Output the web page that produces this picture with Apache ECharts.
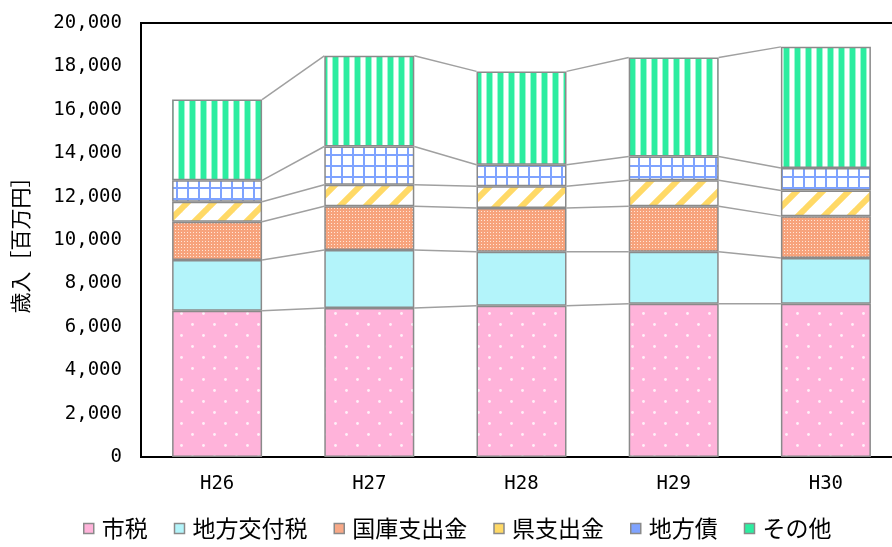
<!DOCTYPE html>
<html><head><meta charset="utf-8">
<script src="https://cdn.jsdelivr.net/npm/echarts@6/dist/echarts.min.js"></script>
<style>html,body{margin:0;padding:0;background:#fff}#c{width:892px;height:547px}</style>
</head><body><div id="c"></div>
<script>
const categories = ['H26','H27','H28','H29','H30'];
const shizei   = [6740, 6870, 6970, 7060, 7060];
const kofuzei  = [2340, 2670, 2490, 2400, 2110];
const kokko    = [1760, 2020, 2020, 2100, 1930];
const ken      = [ 920,  990, 1000, 1190, 1180];
const chihosai = [ 990, 1760,  990, 1100, 1040];
const sonota   = [3720, 4180, 4300, 4560, 5580];
const seriesNames = ['市税','地方交付税','国庫支出金','県支出金','地方債','その他'];
const yTicks = {min:0, max:20000, interval:2000};

function tile(w,h,draw){const c=document.createElement('canvas');c.width=w;c.height=h;const g=c.getContext('2d');draw(g,w,h);return c;}
const patDots = tile(22,22,(g,w,h)=>{g.fillStyle='#FFB3DA';g.fillRect(0,0,w,h);g.fillStyle='#FFF0F8';
  g.beginPath();g.arc(5.5,5.5,1.4,0,Math.PI*2);g.fill();g.beginPath();g.arc(16.5,16.5,1.4,0,Math.PI*2);g.fill();});
const patKokko = tile(3,3,(g,w,h)=>{g.fillStyle='#F7A37C';g.fillRect(0,0,w,h);g.fillStyle='#FFE6D8';g.fillRect(1,1,1,1);});
const patKen = tile(26,26,(g,w,h)=>{g.fillStyle='#fff';g.fillRect(0,0,w,h);g.strokeStyle='#FFD966';g.lineWidth=6;
  for(let k=-1;k<=1;k++){g.beginPath();g.moveTo(k*w-2,h+2);g.lineTo(k*w+w+2,-2);g.stroke();}});
const patSai = tile(11,11,(g,w,h)=>{g.fillStyle='#fff';g.fillRect(0,0,w,h);g.fillStyle='#7FA3FF';g.fillRect(0,0,2,h);g.fillRect(0,0,w,2);});
const patSonota = tile(11,4,(g,w,h)=>{g.fillStyle='#fff';g.fillRect(0,0,w,h);g.fillStyle='#2CEDA0';g.fillRect(3,0,5,h);g.fillStyle='#9FF7D2';g.fillRect(2,0,1,h);g.fillRect(8,0,1,h);});

const fills = [
  {image:patDots, repeat:'repeat'}, '#B3F4FA', {image:patKokko, repeat:'repeat'},
  {image:patKen, repeat:'repeat'}, {image:patSai, repeat:'repeat'}, {image:patSonota, repeat:'repeat'}
];
const legendIconColors = ['#FFB3DA','#B3F4FA','#F8A987','#FFD966','#7FA3FF','#2CEDA0'];
const values = [shizei,kofuzei,kokko,ken,chihosai,sonota];
const FONT = '"Noto Sans CJK JP", sans-serif';
const MONO = '"DejaVu Sans Mono", monospace';

const cum = [];
values.forEach((arr,k)=>{cum.push(arr.map((v,i)=> v + (k>0?cum[k-1][i]:0)));});
const lineData = [];
cum.forEach(level=>{for(let i=0;i<categories.length-1;i++) lineData.push([i, level[i], level[i+1]]);});

const barSeries = values.map((arr,k)=>({
  name: seriesNames[k], type:'bar', stack:'a', barWidth:90, data:arr,
  itemStyle:{color:fills[k], borderColor:'#8A8A8A', borderWidth:1.5},
  emphasis:{disabled:true}, z:3
}));

const chart = echarts.init(document.getElementById('c'));
chart.setOption({
  animation:false,
  textStyle:{fontFamily:FONT},
  grid:{left:141, right:-10, top:23, bottom:90, show:true, borderColor:'#000', borderWidth:2,
    outerBoundsMode:'none', containLabel:false},
  legend:{data:seriesNames.map((n,k)=>({name:n, itemStyle:{color:legendIconColors[k]}})),
    left:83, top:517, padding:0, itemWidth:10, itemHeight:10, itemGap:26,
    icon:'rect', itemStyle:{borderColor:'#8A8A8A', borderWidth:1.5},
    textStyle:{fontFamily:FONT, fontSize:23, color:'#000', padding:[0,0,0,3]}},
  xAxis:{type:'category', data:categories, axisTick:{show:false},
    axisLine:{lineStyle:{color:'#000', width:2}},
    axisLabel:{fontFamily:MONO, fontSize:19, color:'#000', margin:18}},
  yAxis:{type:'value', min:yTicks.min, max:yTicks.max, interval:yTicks.interval,
    name:'歳入［百万円］', nameLocation:'middle', nameGap:110, nameRotate:90,
    nameTextStyle:{fontFamily:FONT, fontSize:21, color:'#000'},
    axisLine:{show:true, lineStyle:{color:'#000', width:2}}, axisTick:{show:false}, splitLine:{show:false},
    axisLabel:{fontFamily:MONO, fontSize:19, color:'#000', margin:19,
      formatter:v=>v.toLocaleString('en-US')}},
  series: barSeries.concat([{
    type:'custom', name:'lines', data:lineData, z:2, silent:true,
    encode:{x:0, y:[1,2]},
    renderItem:(params, api)=>{
      const p1 = api.coord([api.value(0), api.value(1)]);
      const p2 = api.coord([api.value(0)+1, api.value(2)]);
      return {type:'line', shape:{x1:p1[0]+45, y1:p1[1], x2:p2[0]-45, y2:p2[1]},
        style:{stroke:'#A0A0A0', lineWidth:1.5}};
    }
  }])
});
</script></body></html>
